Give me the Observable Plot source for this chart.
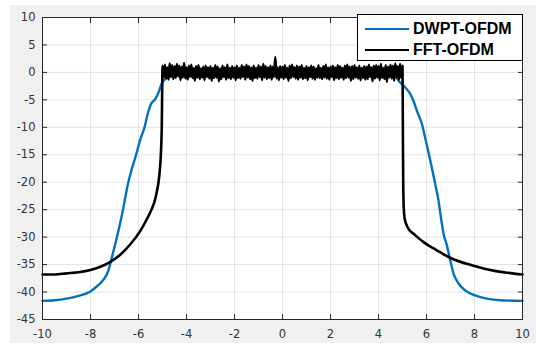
<!DOCTYPE html>
<html><head><meta charset="utf-8">
<script src="https://cdn.jsdelivr.net/npm/d3@7"></script>
<script src="https://cdn.jsdelivr.net/npm/@observablehq/plot@0.6"></script>
<style>
body{margin:0;background:#fff;}
#wrap{position:relative;width:536px;height:344px;overflow:hidden;}
#bg{position:absolute;left:10px;top:5px;width:526px;height:338px;background:#f0f0f0;}
#chart{position:absolute;left:0;top:0;}
#legend{position:absolute;left:357px;top:14px;width:164px;height:45px;border:1px solid #000;background:#fff;font:bold 16px "Liberation Sans",Arial,sans-serif;color:#000;}
.row{position:absolute;left:0;height:20px;display:flex;align-items:center;white-space:nowrap;}
.sw{display:inline-block;width:44px;height:0;border-top:2.5px solid;margin-left:7px;margin-right:4px;}
</style>
</head><body>
<div id="wrap"><div id="bg"></div><div id="chart"></div>
<div id="legend">
 <div class="row" style="top:4px"><span class="sw" style="border-color:#0072BD"></span><span>DWPT-OFDM</span></div>
 <div class="row" style="top:25px"><span class="sw" style="border-color:#000"></span><span>FFT-OFDM</span></div>
</div></div>
<script>
const xTicks = [-10,-8,-6,-4,-2,0,2,4,6,8,10];
const yTicks = [10,5,0,-5,-10,-15,-20,-25,-30,-35,-40,-45];

const dwptX = [-10,-9.5,-9,-8.5,-8,-7.72,-7.45,-7.24,-7.10,-6.97,-6.76,-6.62,-6.45,-6.28,-6.10,-5.93,-5.75,-5.60,-5.46,-5.31,-5.17,-5.03,-4.83,-4.62,-4.3,-3,-2,-1,0,1,2,3,4.3,4.63,4.90,5.11,5.32,5.46,5.60,5.81,5.94,6.08,6.22,6.36,6.50,6.60,6.71,6.85,6.99,7.13,7.33,7.61,8.03,8.51,9.07,10];
const dwptY = [-41.6,-41.5,-41.2,-40.7,-39.9,-38.9,-37.7,-35.9,-33.5,-31.3,-27.4,-24.4,-20.5,-17.6,-15.0,-12.3,-10.0,-7.3,-5.6,-4.9,-3.7,-2.0,-1.0,-0.6,-0.4,-0.3,-0.3,-0.2,-0.2,-0.2,-0.3,-0.3,-0.4,-0.6,-1.8,-2.7,-3.9,-5.2,-7.0,-9.4,-11.8,-14.5,-17.3,-20.3,-23.3,-26.4,-29.4,-31.5,-34.2,-36.7,-38.4,-39.7,-40.6,-41.2,-41.5,-41.6];

const fftLeftX = [-10,-9.5,-9,-8.5,-8,-7.59,-7.17,-6.76,-6.34,-5.93,-5.59,-5.45,-5.31,-5.24,-5.17,-5.12,-5.08,-5.05,-5.03,-5.015];
const fftLeftY = [-36.8,-36.8,-36.6,-36.4,-36.0,-35.4,-34.5,-33.2,-31.3,-28.9,-26.2,-24.9,-23.2,-21.8,-20.1,-18.2,-15.9,-13.0,-9.8,-4.0];

// in-band FFT-OFDM samples, x from -5 to 5 every 0.05
const fftBandStart = -5, fftBandStep = 0.05;
const fftBandY = [
 1.2,-0.9,1.4,-1.1,0.9,-1.3,1.6,-0.8,1.3,-1.2,
 1.1,-1.0,1.5,-0.7,1.2,-1.4,1.0,-0.9,1.7,-1.1,
 0.9,-1.3,1.2,-0.8,1.4,-1.0,0.8,-1.5,1.1,-0.9,
 1.3,-1.2,0.7,-0.9,1.0,-1.4,1.2,-0.8,0.9,-1.1,
 1.1,-1.5,0.8,-1.0,1.3,-0.9,1.0,-1.6,0.7,-1.2,
 1.2,-0.8,0.9,-1.3,1.4,-1.0,0.8,-1.2,1.1,-0.9,
 0.9,-1.4,1.2,-1.0,0.8,-1.1,1.3,-0.8,1.0,-1.3,
 1.4,-0.9,1.1,-1.2,0.9,-1.5,1.2,-1.0,0.8,-1.1,
 1.3,-0.8,1.0,-1.4,1.5,-0.9,1.1,-1.2,0.9,-1.0,
 1.2,-1.3,1.0,-0.8,2.8,-1.1,0.9,-1.4,1.1,-0.9,
 1.0,-1.2,1.3,-0.9,0.8,-1.5,1.2,-1.0,1.4,-0.8,
 0.9,-1.1,1.2,-1.3,1.0,-0.9,1.3,-1.2,0.8,-1.0,
 1.1,-1.4,0.9,-0.8,1.2,-1.1,1.0,-1.3,0.7,-0.9,
 1.3,-1.0,0.8,-1.2,1.1,-0.9,1.4,-1.1,0.9,-1.3,
 1.0,-0.8,1.2,-1.4,0.9,-1.0,1.3,-1.2,1.1,-0.9,
 0.8,-1.3,1.2,-1.0,1.4,-0.9,1.0,-1.5,1.1,-1.2,
 1.3,-0.9,0.9,-1.1,1.2,-1.4,0.8,-1.0,1.1,-1.3,
 1.0,-1.2,1.4,-0.8,0.9,-1.6,1.2,-1.1,1.3,-0.9,
 1.1,-1.4,1.5,-1.0,0.8,-1.2,1.3,-1.7,1.0,-0.9,
 1.4,-1.1,1.2,-1.5,1.6,-0.9,1.1,-1.3,1.5,-1.0,
 1.2];

const fftRightX = [5.01,5.02,5.03,5.05,5.09,5.18,5.30,5.46,5.88,6.43,7.00,7.96,8.79,9.40,10];
const fftRightY = [-5.0,-14.0,-20.0,-24.5,-26.6,-27.9,-28.8,-29.4,-30.9,-32.4,-33.8,-35.2,-36.1,-36.5,-36.8];

const dwpt = dwptX.map((x, i) => ({x, y: dwptY[i]}));
const fft = [
  ...fftLeftX.map((x, i) => ({x, y: fftLeftY[i]})),
  ...fftBandY.map((y, i) => ({x: +(fftBandStart + i * fftBandStep).toFixed(2), y})),
  ...fftRightX.map((x, i) => ({x, y: fftRightY[i]}))
];

const fmt = d => String(d);
const tickStroke = "#262626";
const chart = Plot.plot({
  width: 536, height: 344,
  marginLeft: 42, marginRight: 14, marginTop: 17, marginBottom: 25,
  style: {background: "transparent", fontFamily: "'DejaVu Sans', sans-serif", fontSize: "11.5px", color: "#333"},
  x: {domain: [-10, 10], ticks: xTicks, label: null},
  y: {domain: [-45, 10], ticks: yTicks, label: null},
  marks: [
    Plot.frame({fill: "white", stroke: null}),
    Plot.gridX(xTicks, {stroke: "#e3e3e3", strokeOpacity: 1}),
    Plot.gridY(yTicks, {stroke: "#e3e3e3", strokeOpacity: 1}),
    Plot.line(dwpt, {x: "x", y: "y", stroke: "#0072BD", strokeWidth: 2.4, curve: "monotone-x"}),
    Plot.line(fft, {x: "x", y: "y", stroke: "#000", strokeWidth: 2.6, curve: "monotone-x"}),
    Plot.frame({stroke: tickStroke, strokeWidth: 1}),
    Plot.axisX(xTicks, {anchor: "bottom", tickSize: -5, tickFormat: () => "", stroke: tickStroke, label: null}),
    Plot.axisX(xTicks, {anchor: "top", tickSize: -5, tickFormat: () => "", stroke: tickStroke, label: null}),
    Plot.axisY(yTicks, {anchor: "left", tickSize: -5, tickFormat: () => "", stroke: tickStroke, label: null}),
    Plot.axisY(yTicks, {anchor: "right", tickSize: -5, tickFormat: () => "", stroke: tickStroke, label: null}),
    Plot.axisX(xTicks, {anchor: "bottom", tickSize: 0, tickPadding: 10, tickFormat: fmt, label: null}),
    Plot.axisY(yTicks, {anchor: "left", tickSize: 0, tickPadding: 7, tickFormat: fmt, label: null})
  ]
});
document.getElementById("chart").appendChild(chart);
</script>
</body></html>
